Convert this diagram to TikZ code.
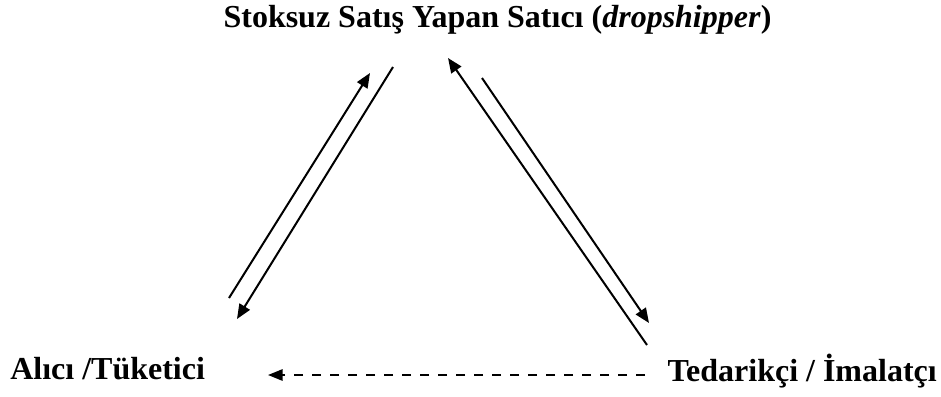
\documentclass[tikz,border=0pt]{standalone}
\usepackage{fontspec}
\setmainfont{Liberation Serif}
\usepackage{tikz}
\usetikzlibrary{arrows.meta,positioning}

\tikzset{
  actor/.style={font=\fontsize{24}{28}\selectfont\bfseries,inner sep=0pt},
  flow/.style={line width=1.5pt,-{Triangle[length=11pt,width=9pt]}},
  backflow/.style={line width=1.5pt,dash pattern=on 7pt off 6.5pt,-{Triangle[length=11pt,width=8.5pt]}}
}

\begin{document}
\begin{tikzpicture}[x=0.75pt,y=-0.75pt]
 \useasboundingbox (0,0) rectangle (941,396);
 \node[actor,anchor=base] (seller) at (497.5,27) {Stoksuz Satış Yapan Satıcı (\textit{dropshipper})};
 \node[actor,anchor=base west] (buyer) at (10,379) {Alıcı /Tüketici};
 \node[actor,anchor=base east] (maker) at (937,381) {Tedarikçi / İmalatçı};
 % left pair
 \coordinate (b1) at (229,298);
 \coordinate (s1) at (370,73);
 \coordinate (s2) at (393,67);
 \coordinate (b2) at (237,319);
 % right pair
 \coordinate (m1) at (647,345);
 \coordinate (s3) at (448,58);
 \coordinate (s4) at (482,78);
 \coordinate (m2) at (649,323);
 % bottom
 \coordinate (mb) at (645,375);
 \coordinate (bm) at (268,375);
 \draw[flow] (b1) -- (s1);
 \draw[flow] (s2) -- (b2);
 \draw[flow] (m1) -- (s3);
 \draw[flow] (s4) -- (m2);
 \draw[backflow] (mb) -- (bm);
\end{tikzpicture}
\end{document}
